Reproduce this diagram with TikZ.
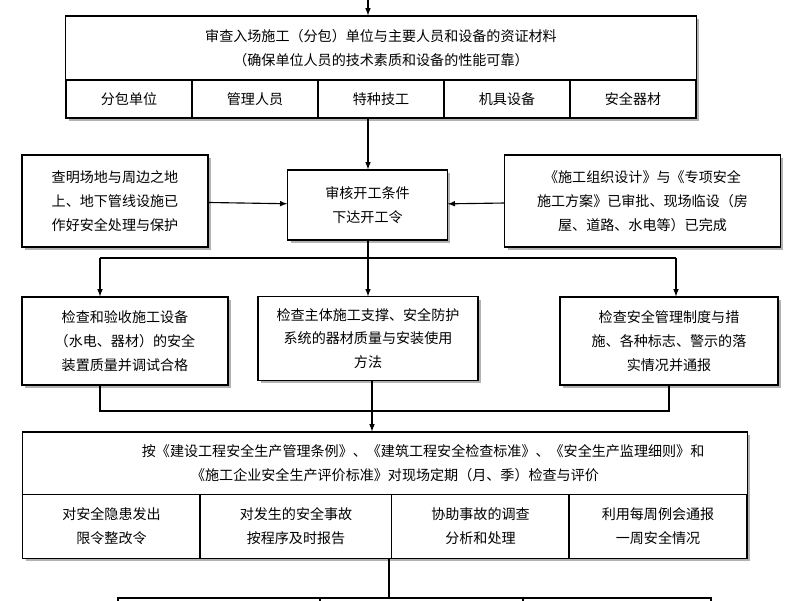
\documentclass[tikz,border=0pt]{standalone}
\usepackage{fontspec}
\setmainfont{Noto Sans CJK SC}
\usetikzlibrary{shadows}
\begin{document}
\begin{tikzpicture}[
  x=0.025cm, y=-0.025cm,
  box/.style={draw, thick, fill=white, align=center, inner sep=1pt,
    font=\fontsize{10}{17}\selectfont,
    drop shadow={shadow xshift=2pt, shadow yshift=-2pt, fill=gray!60, opacity=1}},
  cell/.style={draw, thick, fill=white, align=center, inner sep=1pt,
    font=\fontsize{10}{17}\selectfont},
  arr/.style={thick, -latex},
  ln/.style={thick}
]
\useasboundingbox (0,0) rectangle (800,600);
% top block
\node[box, minimum width=15.75cm, minimum height=2.55cm] (top) at (381,67) {};
\node[cell, draw=none, fill=none, minimum width=15.7cm, minimum height=1.6cm] (tt) at (381,48)
  {审查入场施工（分包）单位与主要人员和设备的资证材料\\（确保单位人员的技术素质和设备的性能可靠）};
\foreach \x/\t [count=\i] in {129/分包单位, 255/管理人员, 381/特种技工, 507/机具设备, 633/安全器材}
  \node[cell, minimum width=3.15cm, minimum height=0.95cm] (c\i) at (\x,99) {\t};
% middle row
\node[box, minimum width=4.65cm, minimum height=2.3cm, align=left] (site) at (115,201)
  {查明场地与周边之地\\上、地下管线设施已\\作好安全处理与保护};
\node[box, minimum width=3.98cm, minimum height=1.75cm] (start) at (367.5,205)
  {审核开工条件\\下达开工令};
\node[box, minimum width=6.88cm, minimum height=2.3cm] (plan) at (642.5,201)
  {《施工组织设计》与《专项安全\\施工方案》已审批、现场临设（房\\屋、道路、水电等）已完成};
% check row
\node[box, minimum width=5.15cm, minimum height=2.2cm] (equip) at (125,341)
  {检查和验收施工设备\\（水电、器材）的安全\\装置质量并调试合格};
\node[box, minimum width=5.5cm, minimum height=2.08cm] (support) at (368,338.5)
  {检查主体施工支撑、安全防护\\系统的器材质量与安装使用\\方法};
\node[box, minimum width=5.45cm, minimum height=2.2cm] (rules) at (669,341)
  {检查安全管理制度与措\\施、各种标志、警示的落\\实情况并通报};
% bottom block
\node[box, minimum width=18.1cm, minimum height=3.15cm] (eval) at (385,495) {};
\node[cell, draw=none, fill=none] (et) at (395,463.5)
  {\hspace*{4em}按《建设工程安全生产管理条例》、《建筑工程安全检查标准》、《安全生产监理细则》和\\《施工企业安全生产评价标准》对现场定期（月、季）检查与评价};
\foreach \x/\w/\t [count=\i] in {111.5/4.43/对安全隐患发出\\限令整改令, 296/4.8/对发生的安全事故\\按程序及时报告,
    480.5/4.43/协助事故的调查\\分析和处理, 658/4.45/利用每周例会通报\\一周安全情况}
  \node[cell, minimum width=\w cm, minimum height=1.58cm] (e\i) at (\x,526.5) {\t};
\foreach \x/\w [count=\i] in {219/5.05, 421.5/5.07, 617/4.7}
  \node[cell, minimum width=\w cm, minimum height=1.2cm] (n\i) at (\x,622) {};
% connectors
\coordinate (in) at (368,0);
\draw[arr] (in) -- (in |- top.north);
\draw[arr] (c3.south -| 368,0) -- (start.north -| 368,0);
\draw[arr] (site) -- (start);
\draw[arr] (plan) -- (start);
\coordinate (busa) at (368,258);
\draw[ln] (start.south -| busa) -- (busa);
\draw[ln] (100,258) -- (676,258);
\draw[arr] (100,258) -- (equip.north -| 100,0);
\draw[arr] (busa) -- (support.north -| busa);
\draw[arr] (676,258) -- (rules.north -| 676,0);
\draw[ln] (equip.south -| 100,0) -- (100,411) -- (669,411) -- (rules.south -| 669,0);
\draw[arr] (support.south -| 372,0) -- (eval.north -| 372,0);
\draw[ln] (e3.south -| 389,0) -- (n2.north -| 389,0);
\end{tikzpicture}
\end{document}
